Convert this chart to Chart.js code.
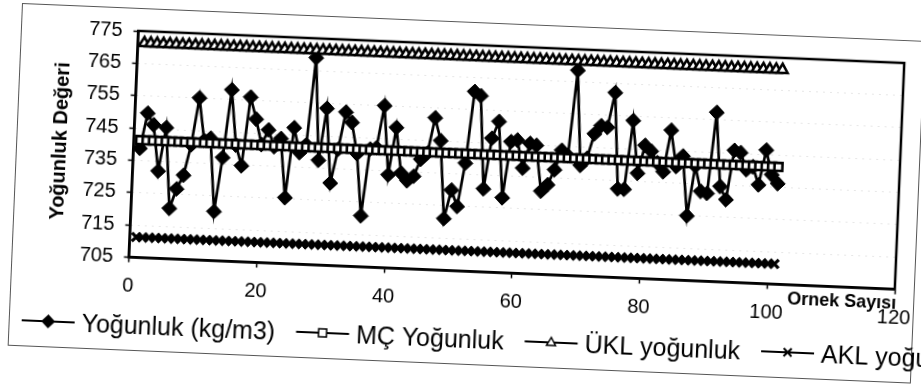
<!DOCTYPE html>
<html>
<head>
<meta charset="utf-8">
<script src="https://cdn.jsdelivr.net/npm/chart.js@4/dist/chart.umd.min.js"></script>
<style>
    html, body { margin: 0; padding: 0; background: #fff; overflow: hidden; }
    #kutu {
        position: absolute; left: 22px; top: 3px;
        width: 960px; height: 360px;
        transform-origin: 0 0; transform: rotate(2.4deg);
    }
</style>
</head>
<body>
<div id="kutu"><canvas id="grafik" width="960" height="360"></canvas></div>
<script>
// Yoğunluk ölçümleri (kg/m3), örnek 1..101
const yogunluk = [
    738.8, 749.7, 746.2, 732.0, 745.5, 720.6, 726.7, 731.0, 740.5, 755.1,
    742.0, 742.8, 720.2, 737.0, 758.0, 741.0, 734.7, 756.0, 749.3, 741.5,
    746.1, 741.0, 743.6, 725.4, 747.1, 739.5, 742.0, 769.0, 737.4, 753.5,
    730.5, 741.0, 752.6, 749.5, 739.9, 720.8, 741.5, 742.0, 755.1, 733.8,
    748.5, 734.5, 732.2, 733.7, 739.0, 741.0, 752.0, 745.0, 721.0, 729.9,
    724.9, 738.4, 760.6, 759.4, 730.7, 746.4, 751.7, 728.2, 745.6, 746.2,
    737.6, 745.3, 744.8, 730.7, 732.8, 737.5, 743.6, 742.0, 768.5, 739.2,
    741.5, 749.1, 751.7, 751.3, 762.1, 732.4, 732.4, 753.7, 737.5, 746.2,
    744.5, 741.0, 738.3, 751.2, 740.1, 743.4, 725.0, 740.5, 732.7, 732.2,
    757.3, 734.5, 730.5, 745.8, 745.2, 740.0, 741.0, 735.5, 746.3, 738.8,
    736.1
];
const mcDegeri = 741.3;   // merkez çizgisi
const uklDegeri = 771.3;  // üst kontrol limiti
const aklDegeri = 711.3;  // alt kontrol limiti

const seriAdlari = ['Yoğunluk (kg/m3)', 'MÇ Yoğunluk', 'ÜKL yoğunluk', 'AKL yoğunluk'];
const xTikleri = [0, 20, 40, 60, 80, 100, 120];
const yTikleri = [705, 715, 725, 735, 745, 755, 765, 775];

const ornekNo = yogunluk.map((_, i) => i + 1);
const noktalar = deger => ornekNo.map((x, i) => ({ x: x, y: Array.isArray(deger) ? deger[i] : deger }));

const YAZI = 'Arial, "Liberation Sans", sans-serif';

const isaret = (ctx, tip, x, y) => {
    ctx.save();
    ctx.strokeStyle = '#000';
    ctx.fillStyle = '#000';
    ctx.lineWidth = 1.5;
    ctx.beginPath();
    if (tip === 'elmas') {
        ctx.moveTo(x - 7, y); ctx.lineTo(x, y - 7); ctx.lineTo(x + 7, y); ctx.lineTo(x, y + 7);
        ctx.closePath(); ctx.fill();
    } else if (tip === 'kare') {
        ctx.fillStyle = '#fff';
        ctx.rect(x - 4, y - 4, 8, 8); ctx.fill(); ctx.stroke();
    } else if (tip === 'ucgen') {
        ctx.fillStyle = '#fff';
        ctx.moveTo(x, y - 5); ctx.lineTo(x + 4.5, y + 3); ctx.lineTo(x - 4.5, y + 3);
        ctx.closePath(); ctx.fill(); ctx.stroke();
    } else {
        ctx.lineWidth = 2;
        ctx.moveTo(x - 4, y - 4); ctx.lineTo(x + 4, y + 4);
        ctx.moveTo(x + 4, y - 4); ctx.lineTo(x - 4, y + 4);
        ctx.stroke();
    }
    ctx.restore();
};

const cerceve = {
    id: 'cerceve',
    beforeDatasetsDraw(chart) {
        const { ctx, chartArea: a } = chart;
        ctx.save();
        ctx.strokeStyle = '#000';
        ctx.lineWidth = 2.5;
        ctx.strokeRect(a.left, a.top, a.right - a.left, a.bottom - a.top);
        ctx.restore();
    },
    afterDraw(chart) {
        const { ctx, chartArea: a } = chart;
        ctx.save();

        // dış kenarlık
        ctx.strokeStyle = '#555';
        ctx.lineWidth = 1;
        ctx.strokeRect(0.5, 0.5, 903, 342);

        // eksen başlıkları
        ctx.fillStyle = '#000';
        ctx.font = 'bold 20px ' + YAZI;
        ctx.textAlign = 'center';
        ctx.textBaseline = 'middle';
        ctx.save();
        ctx.translate(44, (a.top + a.bottom) / 2);
        ctx.rotate(-Math.PI / 2);
        ctx.fillText('Yoğunluk Değeri', 0, 0);
        ctx.restore();

        ctx.font = 'bold 18px ' + YAZI;
        ctx.textAlign = 'right';
        ctx.textBaseline = 'alphabetic';
        ctx.fillText('Ornek Sayısı', a.right + 2, a.bottom + 19);

        // gösterge
        const tipler = ['elmas', 'kare', 'ucgen', 'carpi'];
        ctx.font = '25px ' + YAZI;
        ctx.textAlign = 'left';
        ctx.textBaseline = 'middle';
        let x = 13;
        const y = 317;
        seriAdlari.forEach((ad, i) => {
            ctx.strokeStyle = '#000';
            ctx.lineWidth = 2;
            ctx.beginPath();
            ctx.moveTo(x, y);
            ctx.lineTo(x + 53, y);
            ctx.stroke();
            isaret(ctx, tipler[i], x + 26.5, y);
            ctx.fillStyle = '#000';
            ctx.fillText(ad, x + 60, y + 2);
            x += 60 + ctx.measureText(ad).width + 21;
        });
        ctx.restore();
    }
};

new Chart(document.getElementById('grafik'), {
    type: 'line',
    data: {
        datasets: [
            {
                label: seriAdlari[0], data: noktalar(yogunluk), order: 2,
                borderColor: '#000', borderWidth: 2.7, backgroundColor: '#000',
                pointStyle: 'rectRot', pointRadius: 7.5, pointBorderWidth: 1
            },
            {
                label: seriAdlari[1], data: noktalar(mcDegeri), order: 1,
                borderColor: '#000', borderWidth: 2, backgroundColor: '#fff',
                pointStyle: 'rect', pointRadius: 5.6, pointBorderWidth: 2.6
            },
            {
                label: seriAdlari[2], data: noktalar(uklDegeri), order: 1,
                borderColor: '#000', borderWidth: 2, backgroundColor: '#fff',
                pointStyle: 'triangle', pointRadius: 6, pointBorderWidth: 2.6
            },
            {
                label: seriAdlari[3], data: noktalar(aklDegeri), order: 1,
                borderColor: '#000', borderWidth: 2, backgroundColor: '#000',
                pointStyle: 'crossRot', pointRadius: 6, pointBorderWidth: 3.2
            }
        ]
    },
    options: {
        responsive: false,
        animation: false,
        devicePixelRatio: 1,
        layout: { padding: { left: 0, top: 22, right: 76, bottom: 70.5 } },
        plugins: { legend: { display: false }, tooltip: { enabled: false } },
        scales: {
            x: {
                type: 'linear', min: xTikleri[0], max: xTikleri[xTikleri.length - 1],
                afterFit: s => { s.height = 40; },
                afterBuildTicks: s => { s.ticks = xTikleri.map(v => ({ value: v })); },
                grid: { drawOnChartArea: false, tickLength: 5, tickColor: '#000', tickWidth: 1.5 },
                border: { display: true, color: '#000', width: 2.5 },
                ticks: { color: '#000', font: { family: YAZI, size: 20 }, padding: 12, maxRotation: 0, autoSkip: false }
            },
            y: {
                min: yTikleri[0], max: yTikleri[yTikleri.length - 1],
                afterFit: s => { s.width = 117.5; },
                afterBuildTicks: s => { s.ticks = yTikleri.map(v => ({ value: v })); },
                grid: { color: '#cfcfcf', lineWidth: 1, tickLength: 5, tickColor: '#000', tickWidth: 1.5 },
                border: { display: true, color: '#000', width: 2.5, dash: [1, 6] },
                ticks: { color: '#000', font: { family: YAZI, size: 20 }, padding: 11 }
            }
        }
    },
    plugins: [cerceve]
});
</script>
</body>
</html>
